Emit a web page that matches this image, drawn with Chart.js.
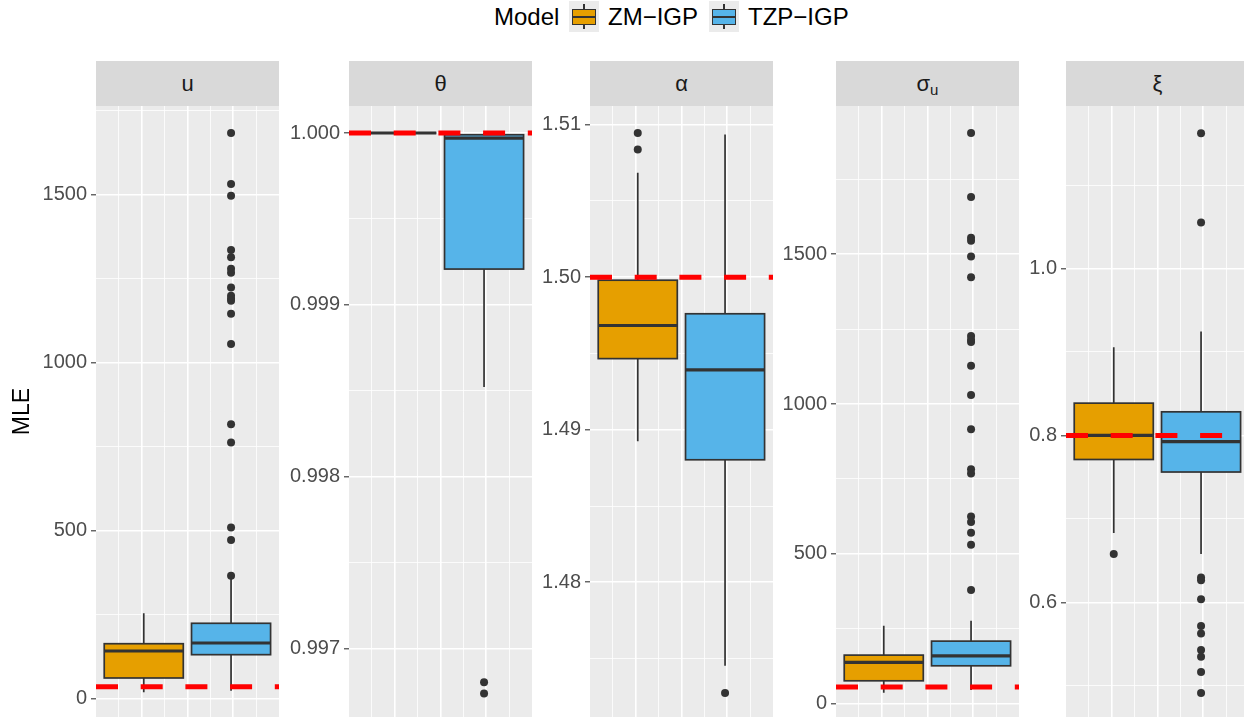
<!DOCTYPE html>
<html>
<head>
<meta charset="utf-8">
<script src="https://cdn.jsdelivr.net/npm/chart.js@4.4.1/dist/chart.umd.min.js"></script>
<style>
  body { margin: 0; width: 1244px; height: 717px; overflow: hidden; position: relative; background: #fff;
         font-family: "Liberation Sans", Arial, sans-serif; }
  canvas { position: absolute; top: 106px; }
  .strip { position: absolute; top: 61px; width: 183px; height: 45px; line-height: 45px; background: #D9D9D9;
           color: #1A1A1A; font-size: 22px; text-align: center; }
  .strip sub { font-size: 15px; vertical-align: -4px; }
  .ltxt { position: absolute; top: 0; height: 34px; line-height: 34px; color: #000; white-space: nowrap; font-size: 24px; }
  .key { position: absolute; top: 1px; width: 30px; height: 31px; background: #EBEBEB; }
  .key .wh { position: absolute; left: 14.4px; top: 3px; width: 1.2px; height: 25px; background: #333; }
  .key .bx { position: absolute; left: 3px; top: 8px; width: 24px; height: 16px; box-sizing: border-box; border: 1.3px solid #333; }
  .key .md { position: absolute; left: 3px; top: 14.8px; width: 24px; height: 2.4px; background: #333; }
</style>
</head>
<body>
<div id="legend"></div>
<div id="strips"></div>
<div id="charts"></div>
<script>
//Models
var models = ['ZM−IGP', 'TZP−IGP'];
var modelColors = ['#E69F00', '#56B4E9'];

//Box stats: [lower whisker, Q1, median, Q3, upper whisker]
//Panel u
var uZM = [18.5, 61, 141.4, 163, 253.6];
var uTZP = [23.2, 130.4, 165.2, 223.8, 355.7];
var uOutZM = [];
var uOutTZP = [1683, 1531, 1496, 1335, 1313, 1279, 1267, 1223, 1199, 1190, 1184, 1145, 1055, 816, 762, 509, 472, 365];
var uTrue = 35;
var uTicks = [0, 500, 1000, 1500];
var uTickLabels = ['0', '500', '1000', '1500'];
var uRange = [-55.1, 1763.4];

//Panel theta
var thetaZM = [1, 1, 1, 1, 1];
var thetaTZP = [0.998521, 0.999208, 0.99997, 0.99999, 1];
var thetaOutZM = [];
var thetaOutTZP = [0.996803, 0.996738];
var thetaTrue = 1;
var thetaTicks = [0.997, 0.998, 0.999, 1.000];
var thetaTickLabels = ['0.997', '0.998', '0.999', '1.000'];
var thetaRange = [0.9966007, 1.0001572];

//Panel alpha
var alphaZM = [1.48924, 1.49466, 1.49683, 1.4998, 1.50684];
var alphaTZP = [1.47453, 1.48803, 1.49392, 1.4976, 1.50935];
var alphaOutZM = [1.50945, 1.50836];
var alphaOutTZP = [1.47275];
var alphaTrue = 1.5;
var alphaTicks = [1.48, 1.49, 1.50, 1.51];
var alphaTickLabels = ['1.48', '1.49', '1.50', '1.51'];
var alphaRange = [1.47117, 1.511219];

//Panel sigma_u
var sigmaZM = [35.4, 75.5, 136.9, 161.3, 259.2];
var sigmaTZP = [44.4, 125.6, 159, 208, 276];
var sigmaOutZM = [];
var sigmaOutTZP = [1905, 1691, 1555, 1545, 1493, 1423, 1227, 1215, 1207, 1128, 1030, 916, 782, 768, 624, 606, 570, 530, 379];
var sigmaTrue = 55;
var sigmaTicks = [0, 500, 1000, 1500];
var sigmaTickLabels = ['0', '500', '1000', '1500'];
var sigmaRange = [-45.4, 1995.3];

//Panel xi
var xiZM = [0.6831, 0.7712, 0.8, 0.8387, 0.9057];
var xiTZP = [0.6579, 0.7562, 0.7925, 0.8283, 0.9245];
var xiOutZM = [0.6579];
var xiOutTZP = [1.1621, 1.0552, 0.6297, 0.6264, 0.6038, 0.5717, 0.5627, 0.5429, 0.5349, 0.5166, 0.4915];
var xiTrue = 0.8;
var xiTicks = [0.6, 0.8, 1.0];
var xiTickLabels = ['0.6', '0.8', '1.0'];
var xiRange = [0.46272, 1.19467];

//Layout of the facets (page pixels)
var panelW = 183;
var panels = [
  {id: 'u', strip: 'u', left: 96, axisW: 96, stats: [uZM, uTZP], outs: [uOutZM, uOutTZP], truth: uTrue, ticks: uTicks, labels: uTickLabels, range: uRange},
  {id: 'theta', strip: 'θ', left: 349, axisW: 66, stats: [thetaZM, thetaTZP], outs: [thetaOutZM, thetaOutTZP], truth: thetaTrue, ticks: thetaTicks, labels: thetaTickLabels, range: thetaRange},
  {id: 'alpha', strip: 'α', left: 590, axisW: 56, stats: [alphaZM, alphaTZP], outs: [alphaOutZM, alphaOutTZP], truth: alphaTrue, ticks: alphaTicks, labels: alphaTickLabels, range: alphaRange},
  {id: 'sigma', strip: 'σ<sub>u</sub>', left: 836, axisW: 60, stats: [sigmaZM, sigmaTZP], outs: [sigmaOutZM, sigmaOutTZP], truth: sigmaTrue, ticks: sigmaTicks, labels: sigmaTickLabels, range: sigmaRange},
  {id: 'xi', strip: 'ξ', left: 1066, axisW: 45, stats: [xiZM, xiTZP], outs: [xiOutZM, xiOutTZP], truth: xiTrue, ticks: xiTicks, labels: xiTickLabels, range: xiRange}
];
var panelByCanvas = {};

//Box centres on the 0..1 x scale of each facet
var boxCenters = [0.261, 0.738];
var boxHalf = 0.216;
var xGrid = [0.125, 0.25, 0.375, 0.5, 0.625, 0.75, 0.875];

Chart.defaults.font.family = '"Liberation Sans", Arial, sans-serif';

//Legend
var legend = document.getElementById('legend');
var legendHtml = '<div class="ltxt" style="left:494px">Model</div>';
var keyLeft = [569, 709];
var textLeft = [608, 748];
models.forEach(function(m, i) {
  legendHtml += '<div class="key" style="left:' + keyLeft[i] + 'px"><div class="wh"></div>' +
    '<div class="bx" style="background:' + modelColors[i] + '"></div><div class="md"></div></div>' +
    '<div class="ltxt" style="left:' + textLeft[i] + 'px">' + m + '</div>';
});
legend.innerHTML = legendHtml;

//Panel background and boxplots
var boxPlugin = {
  id: 'boxes',
  beforeDraw: function(chart) {
    var a = chart.chartArea;
    var ctx = chart.ctx;
    ctx.save();
    ctx.fillStyle = '#EBEBEB';
    ctx.fillRect(a.left, a.top, a.right - a.left, a.bottom - a.top);
    ctx.restore();
  },
  beforeDatasetsDraw: function(chart) {
    var p = panelByCanvas[chart.canvas.id];
    if (!p) return;
    var xs = chart.scales.x;
    var ys = chart.scales.y;
    var ctx = chart.ctx;
    ctx.save();
    ctx.strokeStyle = '#333333';
    p.stats.forEach(function(s, i) {
      var cx = xs.getPixelForValue(boxCenters[i]);
      var l = xs.getPixelForValue(boxCenters[i] - boxHalf);
      var r = xs.getPixelForValue(boxCenters[i] + boxHalf);
      var yLo = ys.getPixelForValue(s[0]);
      var yQ1 = ys.getPixelForValue(s[1]);
      var yMed = ys.getPixelForValue(s[2]);
      var yQ3 = ys.getPixelForValue(s[3]);
      var yHi = ys.getPixelForValue(s[4]);
      ctx.lineWidth = 1.7;
      ctx.beginPath();
      ctx.moveTo(cx, yHi); ctx.lineTo(cx, yQ3);
      ctx.moveTo(cx, yQ1); ctx.lineTo(cx, yLo);
      ctx.stroke();
      ctx.fillStyle = modelColors[i];
      ctx.fillRect(l, yQ3, r - l, yQ1 - yQ3);
      ctx.strokeRect(l, yQ3, r - l, yQ1 - yQ3);
      ctx.lineWidth = 3.2;
      ctx.beginPath();
      ctx.moveTo(l, yMed); ctx.lineTo(r, yMed);
      ctx.stroke();
    });
    ctx.restore();
  }
};

function buildYTicks(p) {
  var step = p.ticks[1] - p.ticks[0];
  var half = step / 2;
  var out = [];
  var v = p.ticks[0] - Math.ceil((p.ticks[0] - p.range[0]) / half) * half;
  for (; v <= p.range[1] + 1e-12; v += half) {
    if (v < p.range[0]) continue;
    var lab = '';
    for (var j = 0; j < p.ticks.length; j++) {
      if (Math.abs(v - p.ticks[j]) < half * 0.01) lab = p.labels[j];
    }
    out.push({value: v, lab: lab});
  }
  return out;
}

function isMajorX(v) {
  return Math.abs(v * 4 - Math.round(v * 4)) < 1e-9;
}

var charts = [];
var stripsDiv = document.getElementById('strips');
var chartsDiv = document.getElementById('charts');
var stripHtml = '';
panels.forEach(function(p) {
  stripHtml += '<div class="strip" style="left:' + p.left + 'px">' + p.strip + '</div>';
});
stripsDiv.innerHTML = stripHtml;

panels.forEach(function(p, idx) {
  var cv = document.createElement('canvas');
  cv.id = 'chart-' + p.id;
  cv.width = p.axisW + panelW;
  cv.height = 717 - 106;
  cv.style.left = (p.left - p.axisW) + 'px';
  chartsDiv.appendChild(cv);
  panelByCanvas[cv.id] = p;

  var datasets = [{
    type: 'line',
    label: 'true value',
    data: [{x: 0, y: p.truth}, {x: 1, y: p.truth}],
    borderColor: '#FF0000',
    borderWidth: 5,
    borderDash: [22, 22.7],
    borderCapStyle: 'butt',
    pointRadius: 0,
    showLine: true
  }];
  p.outs.forEach(function(o, i) {
    datasets.push({
      type: 'scatter',
      label: models[i] + ' outliers',
      data: o.map(function(v) { return {x: boxCenters[i], y: v}; }),
      pointRadius: 4,
      pointBackgroundColor: '#333333',
      pointBorderWidth: 0
    });
  });

  var yOpts = {
    type: 'linear',
    min: p.range[0],
    max: p.range[1],
    bounds: 'data',
    afterBuildTicks: function(s) { s.ticks = buildYTicks(p); },
    afterFit: function(s) { s.width = p.axisW; s.paddingTop = 0; s.paddingBottom = 0; },
    ticks: {
      autoSkip: false,
      padding: 4,
      color: '#4D4D4D',
      font: {size: 20},
      callback: function(v, i, t) { return t[i].lab; }
    },
    grid: {
      color: '#FFFFFF',
      lineWidth: function(c) { return c.tick && c.tick.lab ? 1.6 : 0.8; },
      drawTicks: true,
      tickLength: 5,
      tickWidth: 1.1,
      tickColor: function(c) { return c.tick && c.tick.lab ? '#333333' : 'rgba(0,0,0,0)'; }
    },
    border: {display: false}
  };
  if (idx === 0) {
    yOpts.title = {display: true, text: 'MLE', color: '#000000', font: {size: 23}, padding: {top: 9, bottom: 0}};
  }

  var ch = new Chart(cv, {
    type: 'scatter',
    data: {datasets: datasets},
    options: {
      responsive: false,
      animation: false,
      devicePixelRatio: 1,
      events: [],
      layout: {padding: 0, autoPadding: false},
      plugins: {legend: {display: false}, tooltip: {enabled: false}},
      scales: {
        x: {
          type: 'linear',
          min: 0,
          max: 1,
          bounds: 'data',
          afterBuildTicks: function(s) { s.ticks = xGrid.map(function(v) { return {value: v}; }); },
          afterFit: function(s) { s.height = 0; s.paddingLeft = 0; s.paddingRight = 0; },
          ticks: {display: false},
          grid: {
            color: '#FFFFFF',
            lineWidth: function(c) { return c.tick && isMajorX(c.tick.value) ? 1.6 : 0.8; },
            drawTicks: false
          },
          border: {display: false}
        },
        y: yOpts
      }
    },
    plugins: [boxPlugin]
  });
  charts.push(ch);
});
</script>
</body>
</html>
